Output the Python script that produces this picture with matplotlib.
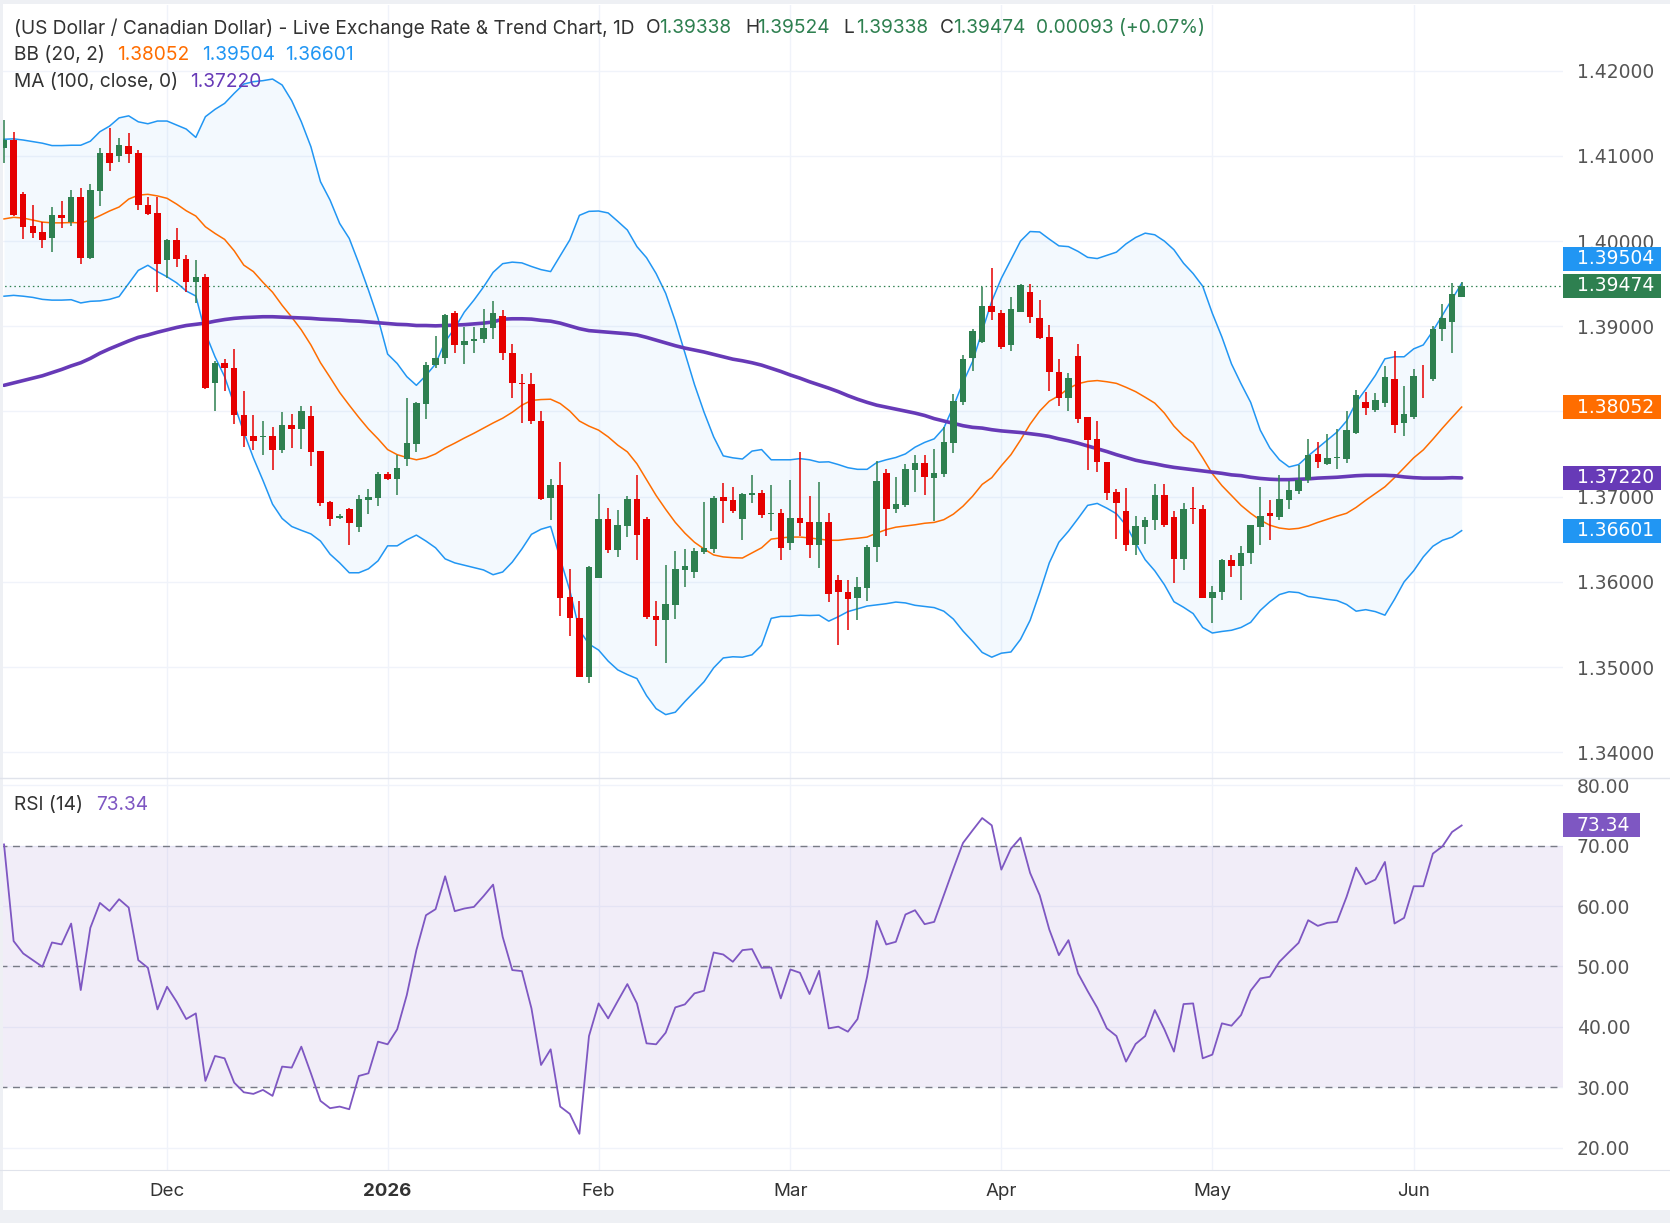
import matplotlib
matplotlib.use("Agg")
import matplotlib.pyplot as plt
from matplotlib.patches import Rectangle
import numpy as np
import pandas as pd

plt.rcParams["font.family"] = ["DejaVu Sans"]

# ---- daily USD/CAD candles ----
open_ = [
    1.41093, 1.41181, 1.40558, 1.40172, 1.40102, 1.40032, 1.40302, 1.40223, 1.40512, 1.39800,
    1.40586, 1.41028, 1.41000, 1.41112, 1.41028, 1.40418, 1.40325, 1.39777, 1.40018, 1.39795,
    1.39516, 1.39581, 1.38330, 1.38572, 1.38512, 1.37958, 1.37712, 1.37702, 1.37712, 1.37553,
    1.37842, 1.37800, 1.37949, 1.37535, 1.36935, 1.36744, 1.36856, 1.36646, 1.36963, 1.36986,
    1.37265, 1.37209, 1.37437, 1.37623, 1.38093, 1.38540, 1.38623, 1.39158, 1.38786, 1.38823,
    1.38846, 1.38981, 1.39126, 1.38688, 1.38335, 1.38326, 1.37888, 1.36986, 1.37135, 1.35819,
    1.35581, 1.34888, 1.36046, 1.36735, 1.36372, 1.36660, 1.36972, 1.36735, 1.35595, 1.35553,
    1.35730, 1.36140, 1.36116, 1.36349, 1.36381, 1.36995, 1.36958, 1.36739, 1.37023, 1.37042,
    1.36795, 1.36809, 1.36461, 1.36749, 1.36702, 1.36437, 1.36702, 1.36019, 1.35879, 1.35814,
    1.35930, 1.36414, 1.37279, 1.36860, 1.36902, 1.37316, 1.37395, 1.37223, 1.37270, 1.37632,
    1.38112, 1.38623, 1.38818, 1.39242, 1.39158, 1.38777, 1.39172, 1.39405, 1.39102, 1.38879,
    1.38465, 1.38153, 1.38656, 1.37930, 1.37680, 1.37405, 1.37056, 1.36833, 1.36437, 1.36646,
    1.36726, 1.37019, 1.36758, 1.36270, 1.36870, 1.36856, 1.35814, 1.35884, 1.36256, 1.36186,
    1.36340, 1.36646, 1.36809, 1.36763, 1.36963, 1.37070, 1.37200, 1.37498, 1.37386, 1.37451,
    1.37446, 1.37753, 1.38112, 1.38023, 1.38102, 1.38381, 1.37860, 1.37935, 1.38410, 1.38381,
    1.38963, 1.39056, 1.39338,
]
high = [
    1.41423, 1.41279, 1.40581, 1.40418, 1.40223, 1.40395, 1.40465, 1.40595, 1.40628, 1.40665,
    1.41088, 1.41325, 1.41209, 1.41265, 1.41065, 1.40512, 1.40521, 1.40025, 1.40158, 1.39842,
    1.39781, 1.39618, 1.38595, 1.38618, 1.38735, 1.38242, 1.37958, 1.37888, 1.37818, 1.37995,
    1.37972, 1.38070, 1.38070, 1.37540, 1.36949, 1.36795, 1.36865, 1.37019, 1.37088, 1.37293,
    1.37293, 1.37493, 1.38163, 1.38110, 1.38577, 1.38888, 1.39140, 1.39181, 1.38995, 1.38995,
    1.39205, 1.39302, 1.39195, 1.38795, 1.38442, 1.38456, 1.38000, 1.37205, 1.37405, 1.36149,
    1.35781, 1.36181, 1.37028, 1.36865, 1.36842, 1.37009, 1.37256, 1.36758, 1.35772, 1.36195,
    1.36358, 1.36381, 1.36395, 1.36935, 1.37009, 1.37158, 1.37112, 1.37040, 1.37256, 1.37074,
    1.37135, 1.36856, 1.37195, 1.37525, 1.37009, 1.37172, 1.36809, 1.36079, 1.36019, 1.36056,
    1.36433, 1.37418, 1.37326, 1.37233, 1.37381, 1.37488, 1.37488, 1.37558, 1.37823, 1.38209,
    1.38665, 1.38963, 1.39465, 1.39679, 1.39195, 1.39349, 1.39502, 1.39493, 1.39312, 1.39019,
    1.38618, 1.38456, 1.38795, 1.37939, 1.37888, 1.37410, 1.37088, 1.37102, 1.36772, 1.36758,
    1.37149, 1.37149, 1.36833, 1.36926, 1.37112, 1.36902, 1.35949, 1.36265, 1.36312, 1.36419,
    1.36670, 1.37112, 1.36958, 1.37256, 1.37181, 1.37372, 1.37679, 1.37642, 1.37740, 1.37795,
    1.38000, 1.38256, 1.38223, 1.38219, 1.38535, 1.38712, 1.38302, 1.38502, 1.38544, 1.39005,
    1.39265, 1.39507, 1.39524,
]
low = [
    1.40921, 1.40300, 1.40023, 1.40037, 1.39916, 1.39870, 1.40153, 1.40177, 1.39730, 1.39790,
    1.40409, 1.40828, 1.40930, 1.40916, 1.40363, 1.40302, 1.39400, 1.39563, 1.39693, 1.39400,
    1.39274, 1.38262, 1.38009, 1.38246, 1.37851, 1.37581, 1.37549, 1.37493, 1.37316, 1.37512,
    1.37572, 1.37563, 1.37363, 1.36893, 1.36660, 1.36735, 1.36437, 1.36586, 1.36800, 1.36893,
    1.37200, 1.37014, 1.37363, 1.37530, 1.37916, 1.38516, 1.38563, 1.38684, 1.38563, 1.38684,
    1.38800, 1.38856, 1.38609, 1.38153, 1.37870, 1.37851, 1.36963, 1.36730, 1.35595, 1.35363,
    1.34880, 1.34818, 1.36040, 1.36340, 1.36293, 1.36525, 1.36260, 1.35563, 1.35246, 1.35051,
    1.35563, 1.35944, 1.36046, 1.36330, 1.36340, 1.36693, 1.36805, 1.36493, 1.36930, 1.36749,
    1.36600, 1.36260, 1.36377, 1.36535, 1.36284, 1.36163, 1.35763, 1.35260, 1.35437, 1.35558,
    1.35777, 1.36228, 1.36540, 1.36814, 1.36884, 1.37056, 1.37014, 1.36712, 1.37233, 1.37512,
    1.38080, 1.38470, 1.38809, 1.39070, 1.38730, 1.38707, 1.39163, 1.39033, 1.38855, 1.38246,
    1.38060, 1.38009, 1.37870, 1.37316, 1.37284, 1.36963, 1.36502, 1.36363, 1.36316, 1.36447,
    1.36610, 1.36646, 1.35981, 1.36140, 1.36684, 1.35805, 1.35516, 1.35786, 1.36060, 1.35786,
    1.36214, 1.36437, 1.36493, 1.36730, 1.36856, 1.37028, 1.37163, 1.37340, 1.37372, 1.37330,
    1.37400, 1.37735, 1.37958, 1.37995, 1.38047, 1.37753, 1.37716, 1.37912, 1.38163, 1.38363,
    1.38823, 1.38689, 1.39338,
]
close_ = [
    1.41181, 1.40307, 1.40163, 1.40093, 1.40009, 1.40302, 1.40270, 1.40512, 1.39800, 1.40595,
    1.41028, 1.40916, 1.41125, 1.41023, 1.40423, 1.40316, 1.39730, 1.40018, 1.39786, 1.39516,
    1.39581, 1.38270, 1.38572, 1.38507, 1.37953, 1.37707, 1.37656, 1.37712, 1.37553, 1.37842,
    1.37800, 1.38005, 1.37530, 1.36930, 1.36739, 1.36772, 1.36693, 1.36972, 1.36995, 1.37265,
    1.37209, 1.37335, 1.37632, 1.38102, 1.38549, 1.38632, 1.39135, 1.38786, 1.38832, 1.38856,
    1.38981, 1.39158, 1.38684, 1.38330, 1.38326, 1.37884, 1.36972, 1.37135, 1.35814, 1.35577,
    1.34888, 1.36172, 1.36735, 1.36372, 1.36665, 1.36972, 1.36553, 1.35586, 1.35558, 1.35735,
    1.36149, 1.36181, 1.36358, 1.36395, 1.36981, 1.36953, 1.36837, 1.37033, 1.37042, 1.36786,
    1.36809, 1.36400, 1.36749, 1.36693, 1.36437, 1.36702, 1.35860, 1.35884, 1.35800, 1.35935,
    1.36409, 1.37181, 1.36860, 1.36912, 1.37326, 1.37395, 1.37233, 1.37279, 1.37642, 1.38125,
    1.38614, 1.38949, 1.39242, 1.39163, 1.38753, 1.39205, 1.39484, 1.39107, 1.38860, 1.38460,
    1.38153, 1.38395, 1.37916, 1.37670, 1.37409, 1.37042, 1.36930, 1.36437, 1.36656, 1.36726,
    1.37019, 1.36665, 1.36270, 1.36856, 1.36860, 1.35814, 1.35879, 1.36256, 1.36186, 1.36335,
    1.36665, 1.36772, 1.36777, 1.36972, 1.37079, 1.37200, 1.37488, 1.37405, 1.37456, 1.37465,
    1.37781, 1.38195, 1.38037, 1.38130, 1.38405, 1.37837, 1.37972, 1.38419, 1.38400, 1.38973,
    1.39093, 1.39381, 1.39474,
]

# ---- indicators as plotted ----
bb_upper = [
    1.41195, 1.41200, 1.41186, 1.41167, 1.41149, 1.41121, 1.41121, 1.41125, 1.41125, 1.41172,
    1.41284, 1.41349, 1.41446, 1.41470, 1.41400, 1.41377, 1.41409, 1.41409, 1.41362, 1.41315,
    1.41217, 1.41460, 1.41546, 1.41616, 1.41734, 1.41843, 1.41871, 1.41883, 1.41902, 1.41832,
    1.41648, 1.41401, 1.41108, 1.40697, 1.40481, 1.40207, 1.40031, 1.39738, 1.39425, 1.39093,
    1.38674, 1.38563, 1.38409, 1.38307, 1.38423, 1.38558, 1.38819, 1.38977, 1.39167, 1.39307,
    1.39461, 1.39633, 1.39735, 1.39753, 1.39744, 1.39702, 1.39665, 1.39642, 1.39828, 1.40014,
    1.40302, 1.40349, 1.40353, 1.40330, 1.40232, 1.40130, 1.39935, 1.39805, 1.39619, 1.39386,
    1.39060, 1.38688, 1.38316, 1.37991, 1.37702, 1.37479, 1.37456, 1.37442, 1.37535, 1.37553,
    1.37433, 1.37433, 1.37433, 1.37447, 1.37433, 1.37405, 1.37409, 1.37377, 1.37340, 1.37321,
    1.37321, 1.37400, 1.37433, 1.37460, 1.37502, 1.37581, 1.37637, 1.37679, 1.37805, 1.38060,
    1.38339, 1.38586, 1.38944, 1.39293, 1.39563, 1.39781, 1.40000, 1.40112, 1.40107, 1.40023,
    1.39944, 1.39935, 1.39879, 1.39809, 1.39795, 1.39833, 1.39870, 1.39967, 1.40042, 1.40093,
    1.40074, 1.40000, 1.39898, 1.39740, 1.39619, 1.39470, 1.39153, 1.38874, 1.38558, 1.38325,
    1.38107, 1.37781, 1.37572, 1.37433, 1.37349, 1.37377, 1.37479, 1.37572, 1.37665, 1.37758,
    1.37888, 1.38107, 1.38260, 1.38423, 1.38618, 1.38642, 1.38642, 1.38735, 1.38781, 1.38944,
    1.39130, 1.39316, 1.39504,
]
bb_mid = [
    1.40260, 1.40279, 1.40270, 1.40246, 1.40223, 1.40214, 1.40214, 1.40218, 1.40214, 1.40246,
    1.40298, 1.40353, 1.40400, 1.40493, 1.40539, 1.40549, 1.40530, 1.40502, 1.40434, 1.40356,
    1.40294, 1.40168, 1.40090, 1.40020, 1.39886, 1.39718, 1.39642, 1.39516, 1.39400, 1.39246,
    1.39107, 1.38958, 1.38781, 1.38572, 1.38400, 1.38223, 1.38074, 1.37930, 1.37795, 1.37679,
    1.37553, 1.37493, 1.37460, 1.37433, 1.37456, 1.37502, 1.37572, 1.37628, 1.37688, 1.37744,
    1.37805, 1.37865, 1.37921, 1.37991, 1.38074, 1.38130, 1.38140, 1.38144, 1.38093, 1.38005,
    1.37888, 1.37828, 1.37781, 1.37702, 1.37605, 1.37526, 1.37386, 1.37200, 1.37014, 1.36851,
    1.36698, 1.36572, 1.36465, 1.36386, 1.36316, 1.36293, 1.36284, 1.36280, 1.36340, 1.36400,
    1.36502, 1.36516, 1.36526, 1.36526, 1.36516, 1.36502, 1.36488, 1.36488, 1.36502, 1.36512,
    1.36526, 1.36572, 1.36614, 1.36642, 1.36656, 1.36670, 1.36688, 1.36698, 1.36730, 1.36795,
    1.36888, 1.37005, 1.37144, 1.37223, 1.37363, 1.37493, 1.37665, 1.37851, 1.38005, 1.38121,
    1.38186, 1.38270, 1.38326, 1.38353, 1.38363, 1.38349, 1.38330, 1.38284, 1.38233, 1.38167,
    1.38098, 1.37981, 1.37828, 1.37712, 1.37628, 1.37456, 1.37270, 1.37130, 1.37014, 1.36898,
    1.36805, 1.36725, 1.36665, 1.36632, 1.36618, 1.36628, 1.36656, 1.36698, 1.36735, 1.36772,
    1.36805, 1.36874, 1.36958, 1.37037, 1.37116, 1.37223, 1.37339, 1.37456, 1.37549, 1.37674,
    1.37805, 1.37930, 1.38052,
]
bb_lower = [
    1.39353, 1.39363, 1.39353, 1.39339, 1.39316, 1.39307, 1.39307, 1.39312, 1.39274, 1.39293,
    1.39298, 1.39316, 1.39349, 1.39502, 1.39656, 1.39716, 1.39642, 1.39581, 1.39510, 1.39414,
    1.39355, 1.38921, 1.38642, 1.38409, 1.38084, 1.37758, 1.37456, 1.37191, 1.36912, 1.36744,
    1.36650, 1.36605, 1.36563, 1.36479, 1.36325, 1.36223, 1.36107, 1.36107, 1.36153, 1.36247,
    1.36423, 1.36423, 1.36493, 1.36549, 1.36479, 1.36400, 1.36270, 1.36223, 1.36195, 1.36167,
    1.36140, 1.36084, 1.36116, 1.36232, 1.36386, 1.36558, 1.36618, 1.36651, 1.36270, 1.35898,
    1.35433, 1.35270, 1.35200, 1.35070, 1.34967, 1.34912, 1.34865, 1.34665, 1.34512, 1.34442,
    1.34470, 1.34595, 1.34712, 1.34828, 1.34991, 1.35107, 1.35121, 1.35116, 1.35144, 1.35256,
    1.35572, 1.35595, 1.35595, 1.35609, 1.35605, 1.35609, 1.35539, 1.35591, 1.35651, 1.35684,
    1.35716, 1.35730, 1.35744, 1.35763, 1.35753, 1.35725, 1.35712, 1.35698, 1.35656, 1.35563,
    1.35423, 1.35302, 1.35172, 1.35116, 1.35163, 1.35177, 1.35325, 1.35549, 1.35874, 1.36223,
    1.36465, 1.36595, 1.36744, 1.36898, 1.36921, 1.36865, 1.36800, 1.36665, 1.36456, 1.36260,
    1.36130, 1.35967, 1.35767, 1.35702, 1.35628, 1.35465, 1.35400, 1.35418, 1.35432, 1.35465,
    1.35525, 1.35665, 1.35767, 1.35851, 1.35884, 1.35874, 1.35828, 1.35814, 1.35795, 1.35781,
    1.35735, 1.35656, 1.35674, 1.35651, 1.35609, 1.35795, 1.36000, 1.36130, 1.36293, 1.36418,
    1.36488, 1.36525, 1.36601,
]
ma100 = [
    1.38307, 1.38335, 1.38363, 1.38391, 1.38419, 1.38456, 1.38493, 1.38535, 1.38572, 1.38623,
    1.38684, 1.38735, 1.38781, 1.38828, 1.38870, 1.38898, 1.38930, 1.38958, 1.38986, 1.39009,
    1.39023, 1.39037, 1.39060, 1.39079, 1.39093, 1.39102, 1.39107, 1.39112, 1.39112, 1.39107,
    1.39102, 1.39098, 1.39093, 1.39084, 1.39079, 1.39074, 1.39065, 1.39060, 1.39051, 1.39042,
    1.39033, 1.39023, 1.39019, 1.39009, 1.39009, 1.39005, 1.39009, 1.39014, 1.39019, 1.39028,
    1.39037, 1.39051, 1.39084, 1.39088, 1.39088, 1.39084, 1.39070, 1.39060, 1.39037, 1.39005,
    1.38972, 1.38949, 1.38940, 1.38930, 1.38921, 1.38912, 1.38898, 1.38870, 1.38837, 1.38805,
    1.38772, 1.38744, 1.38721, 1.38698, 1.38670, 1.38642, 1.38614, 1.38595, 1.38572, 1.38544,
    1.38507, 1.38470, 1.38428, 1.38391, 1.38349, 1.38312, 1.38274, 1.38233, 1.38186, 1.38144,
    1.38107, 1.38074, 1.38051, 1.38028, 1.38005, 1.37981, 1.37953, 1.37916, 1.37888, 1.37860,
    1.37833, 1.37814, 1.37805, 1.37786, 1.37772, 1.37763, 1.37753, 1.37739, 1.37725, 1.37707,
    1.37679, 1.37656, 1.37628, 1.37595, 1.37563, 1.37530, 1.37493, 1.37460, 1.37428, 1.37405,
    1.37386, 1.37363, 1.37344, 1.37330, 1.37316, 1.37302, 1.37288, 1.37274, 1.37256, 1.37247,
    1.37228, 1.37214, 1.37205, 1.37200, 1.37200, 1.37205, 1.37209, 1.37218, 1.37223, 1.37228,
    1.37237, 1.37246, 1.37251, 1.37251, 1.37251, 1.37246, 1.37232, 1.37223, 1.37218, 1.37218,
    1.37218, 1.37223, 1.37220,
]
rsi14 = [
    70.2, 54.2, 52.15, 51.05, 49.95, 53.97, 53.64, 57.1, 46.09, 56.39,
    60.52, 59.2, 61.13, 59.75, 51.05, 49.78, 42.89, 46.64, 44.16, 41.29,
    42.23, 31.05, 35.18, 34.79, 30.77, 29.17, 28.9, 29.56, 28.57, 33.42,
    33.25, 36.72, 32.31, 27.74, 26.53, 26.8, 26.36, 31.87, 32.31, 37.55,
    37.11, 39.59, 45.26, 52.7, 58.48, 59.48, 64.93, 59.15, 59.59, 59.86,
    61.63, 63.55, 54.9, 49.4, 49.23, 43.06, 33.69, 36.28, 26.8, 25.59,
    22.29, 38.48, 43.88, 41.4, 44.27, 47.08, 43.88, 37.27, 37.11, 39.04,
    43.22, 43.72, 45.54, 45.98, 52.31, 51.98, 50.77, 52.7, 52.87, 49.78,
    49.83, 44.71, 49.5, 48.95, 45.43, 49.28, 39.75, 40.03, 39.2, 41.29,
    48.29, 57.55, 53.64, 54.08, 58.6, 59.31, 57.0, 57.38, 61.79, 66.2,
    70.44, 72.53, 74.57, 73.36, 66.03, 69.5, 71.32, 65.48, 61.79, 56.12,
    51.87, 54.35, 48.84, 45.92, 43.17, 39.75, 38.48, 34.24, 37.16, 38.48,
    42.78, 39.59, 35.9, 43.77, 43.88, 34.79, 35.4, 40.58, 40.19, 41.96,
    45.98, 48.02, 48.29, 50.77, 52.37, 53.91, 57.66, 56.72, 57.22, 57.38,
    61.52, 66.36, 63.61, 64.38, 67.3, 57.11, 58.04, 63.28, 63.28, 68.68,
    69.89, 72.26, 73.34,
]

price_ticks = [1.34, 1.35, 1.36, 1.37, 1.38, 1.39, 1.40, 1.41, 1.42]
rsi_ticks = [20, 30, 40, 50, 60, 70, 80]

# colours
GREEN = "#2E8050"
RED = "#E50000"
BLUE = "#2196F3"
ORANGE = "#FF6D00"
PURPLE = "#673AB7"
RSI_C = "#7E57C2"
TXT = "#333333"
AXTXT = "#555555"
GRID = "#F0F3FA"
BORDER = "#E0E3EB"

o = np.array(open_)
h = np.array(high)
l = np.array(low)
c = np.array(close_)
n = len(c)
x = np.arange(n)
dates = pd.bdate_range("2025-11-06", periods=n)

W, H = 1670, 1223
fig = plt.figure(figsize=(W / 100, H / 100), dpi=100)
fig.patch.set_facecolor("white")


def box(top, bottom, left=0, right=1563):
    return [left / W, 1 - bottom / H, (right - left) / W, (bottom - top) / H]


ax = fig.add_axes(box(5, 778))
ax_r = fig.add_axes(box(778, 1170))

xlim = (-0.42, 162.57)

# month starts for the time axis
months = dates.to_period("M")
m_idx = [i for i in range(1, n) if months[i] != months[i - 1]]
m_lab = [("2026" if dates[i].month == 1 else dates[i].strftime("%b")) for i in m_idx]

# ---- price pane ----
ax.fill_between(x, bb_lower, bb_upper, color=BLUE, alpha=0.05, lw=0, zorder=1)
ax.plot(x, bb_upper, color=BLUE, lw=1.1, zorder=2)
ax.plot(x, bb_lower, color=BLUE, lw=1.1, zorder=2)
ax.plot(x, bb_mid, color=ORANGE, lw=1.1, zorder=2)
ax.plot(x, ma100, color=PURPLE, lw=2.6, zorder=3, solid_capstyle="round")

up = c >= o
cols = np.where(up, GREEN, RED)
ax.vlines(x, l, h, colors=cols, lw=1.1, zorder=4)
body_lo = np.minimum(o, c)
body_h = np.maximum(np.abs(c - o), 0.00004)
ax.bar(x, body_h, bottom=body_lo, width=0.68, color=cols, lw=0, zorder=5)

ax.axhline(c[-1], color=GREEN, lw=0.9, ls=(0, (1.2, 2.5)), zorder=3)

ax.set_xlim(*xlim)
ax.set_ylim(1.33698, 1.42771)
ax.set_yticks(price_ticks)
# 1.38000 sits fully under the orange value tag in the original, so it is left blank
ax.set_yticklabels(["" if abs(v - 1.38) < 1e-9 else f"{v:.5f}" for v in price_ticks])
ax.yaxis.tick_right()
ax.tick_params(axis="y", length=0, pad=10, labelsize=13.5, labelcolor=AXTXT)
ax.set_xticks(m_idx)
ax.tick_params(axis="x", length=0, labelbottom=False)
ax.grid(True, color=GRID, lw=1, zorder=0)
ax.set_axisbelow(True)
for s in ax.spines.values():
    s.set_visible(False)

# ---- RSI pane ----
ax_r.axhspan(30, 70, color=RSI_C, alpha=0.1, lw=0, zorder=1)
for lvl in (70, 50, 30):
    ax_r.axhline(lvl, color="#787B86", lw=1, ls=(0, (5, 4)), zorder=2)
ax_r.plot(x, rsi14, color=RSI_C, lw=1.3, zorder=3)
ax_r.set_xlim(*xlim)
ax_r.set_ylim(16.3, 81.2)
ax_r.set_yticks(rsi_ticks)
ax_r.set_yticklabels([f"{v:.2f}" for v in rsi_ticks])
ax_r.yaxis.tick_right()
ax_r.tick_params(axis="y", length=0, pad=10, labelsize=13.5, labelcolor=AXTXT)
ax_r.set_xticks(m_idx)
ax_r.set_xticklabels(m_lab)
ax_r.tick_params(axis="x", length=0, pad=9, labelsize=13.5, labelcolor=TXT)
for t in ax_r.get_xticklabels():
    t.set_fontfamily("Inter")
    if t.get_text() == "2026":
        t.set_fontweight("bold")
ax_r.grid(True, color=GRID, lw=1, zorder=0)
ax_r.set_axisbelow(True)
for s in ax_r.spines.values():
    s.set_visible(False)

# ---- overlay in pixel units: header, value tags, frame ----
ov = fig.add_axes([0, 0, 1, 1])
ov.set_xlim(0, W)
ov.set_ylim(H, 0)
ov.axis("off")
ov.set_zorder(10)
ov.patch.set_alpha(0)


def py(a, v):
    return H - a.transData.transform((0, v))[1]


def txt(px, pyy, s, col, size=13.8, fam="Inter", **kw):
    ov.text(px, pyy, s, color=col, fontsize=size, family=fam, va="center", ha="left", **kw)


txt(14, 28, "(US Dollar / Canadian Dollar) - Live Exchange Rate & Trend Chart, 1D", TXT)
for letter, lx, val, vx in (("O", 646, open_[-1], 659), ("H", 745, high[-1], 757),
                            ("L", 843, low[-1], 856), ("C", 940, close_[-1], 953)):
    txt(lx, 28, letter, TXT)
    txt(vx, 28, f"{val:.5f}", GREEN)
chg = close_[-1] - close_[-2]
txt(1036, 28, f"{chg:.5f} (+{chg / close_[-2] * 100:.2f}%)", GREEN)

txt(14, 55, "BB (20, 2)", TXT)
txt(117, 55, f"{bb_mid[-1]:.5f}", ORANGE)
txt(202, 55, f"{bb_upper[-1]:.5f}", BLUE)
txt(285, 55, f"{bb_lower[-1]:.5f}", BLUE)
txt(14, 82, "MA (100, close, 0)", TXT)
txt(190, 82, f"{ma100[-1]:.5f}", PURPLE)
txt(14, 805, "RSI (14)", TXT)
txt(96, 805, f"{rsi14[-1]:.2f}", RSI_C)


def tag(yc, s, col, w=98):
    ov.add_patch(Rectangle((1563, yc - 12), w, 24, color=col, lw=0, zorder=5))
    txt(1577, yc, s, "white", size=13.5, fam="DejaVu Sans", zorder=6)


y_last = py(ax, close_[-1])
tag(y_last - 27, f"{bb_upper[-1]:.5f}", BLUE)
tag(y_last, f"{close_[-1]:.5f}", GREEN)
tag(py(ax, bb_mid[-1]), f"{bb_mid[-1]:.5f}", ORANGE)
tag(py(ax, ma100[-1]), f"{ma100[-1]:.5f}", PURPLE)
tag(py(ax, bb_lower[-1]), f"{bb_lower[-1]:.5f}", BLUE)
tag(py(ax_r, rsi14[-1]), f"{rsi14[-1]:.2f}", RSI_C, w=77)

# pane separators and frame
ov.plot([0, W], [778, 778], color=BORDER, lw=1)
ov.plot([0, W], [1170, 1170], color=BORDER, lw=0.8)
ov.add_patch(Rectangle((0, 0), W, 4, color="#EEF0F4", lw=0))
ov.add_patch(Rectangle((0, 0), 3, H, color="#EEF0F4", lw=0))
ov.add_patch(Rectangle((0, 1210), W, H - 1210, color="#EEF0F4", lw=0))

fig.savefig("out.png", dpi=100, facecolor="white")
